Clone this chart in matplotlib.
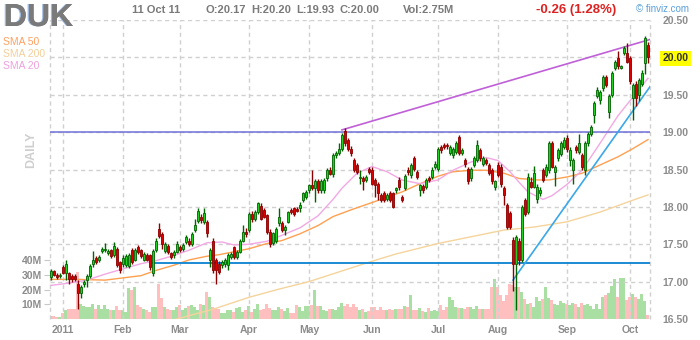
import numpy as np
import matplotlib
matplotlib.use("Agg")
import matplotlib.pyplot as plt
import matplotlib.patheffects as pe

plt.rcParams['font.family'] = ['Liberation Sans', 'DejaVu Sans']

# daily bars: 27 Dec 2010 .. 11 Oct 2011, bar 0 = 3 Jan 2011
first_bar = -4

opens = [17.06, 17.14, 17.09, 17.08, 17.19, 17.12, 17.11, 17.07, 17.08, 16.97,
         16.85, 16.97, 17.02, 17.08, 17.23, 17.31, 17.29, 17.41, 17.42, 17.38,
         17.42, 17.35, 17.44, 17.26, 17.24, 17.22, 17.21, 17.42, 17.29, 17.46,
         17.42, 17.29, 17.35, 17.35, 17.11, 17.42, 17.70, 17.64, 17.41, 17.47,
         17.38, 17.35, 17.40, 17.46, 17.44, 17.53, 17.55, 17.50, 17.69, 17.81,
         17.87, 17.80, 17.80, 17.29, 17.55, 17.29, 17.24, 17.22, 17.24, 17.22,
         17.33, 17.46, 17.33, 17.40, 17.55, 17.67, 17.69, 17.91, 17.84, 17.93,
         18.01, 17.96, 17.89, 17.67, 17.52, 17.55, 17.78, 17.78, 17.69, 17.80,
         17.96, 17.98, 17.97, 17.98, 18.09, 18.13, 18.22, 18.29, 18.25, 18.34,
         18.22, 18.22, 18.38, 18.49, 18.44, 18.69, 18.72, 18.78, 19.01, 18.89,
         18.78, 18.63, 18.56, 18.38, 18.38, 18.36, 18.51, 18.49, 18.36, 18.31,
         18.16, 18.18, 18.11, 18.18, 18.18, 18.22, 18.36, 18.13, 18.25, 18.50,
         18.42, 18.65, 18.47, 18.23, 18.28, 18.27, 18.38, 18.40, 18.54, 18.51,
         18.80, 18.83, 18.83, 18.72, 18.69, 18.74, 18.93, 18.72, 18.63, 18.51,
         18.38, 18.56, 18.63, 18.76, 18.58, 18.63, 18.56, 18.49, 18.27, 18.56,
         18.54, 18.25, 18.02, 17.92, 17.56, 17.24, 17.55, 17.29, 18.09, 17.93,
         18.33, 18.27, 18.11, 18.18, 18.49, 18.43, 18.49, 18.85, 18.47, 18.65,
         18.71, 18.80, 18.92, 18.63, 18.49, 18.80, 18.74, 18.69, 18.49, 18.85,
         18.98, 19.23, 19.48, 19.43, 19.59, 19.74, 19.27, 19.50, 19.86, 19.99,
         19.86, 20.06, 20.06, 19.99, 19.45, 19.65, 19.50, 19.65, 19.92, 20.17]

highs = [17.17, 17.16, 17.12, 17.11, 17.22, 17.29, 17.13, 17.10, 17.10, 17.02,
         16.95, 17.02, 17.10, 17.23, 17.41, 17.34, 17.36, 17.46, 17.52, 17.43,
         17.44, 17.53, 17.46, 17.28, 17.36, 17.37, 17.38, 17.45, 17.45, 17.49,
         17.44, 17.40, 17.38, 17.37, 17.44, 17.58, 17.79, 17.66, 17.53, 17.50,
         17.40, 17.42, 17.54, 17.49, 17.52, 17.62, 17.58, 17.66, 17.84, 17.98,
         17.90, 17.98, 17.83, 17.45, 17.58, 17.31, 17.27, 17.29, 17.31, 17.38,
         17.40, 17.48, 17.42, 17.57, 17.76, 17.72, 17.93, 17.94, 17.96, 18.07,
         18.05, 17.99, 17.91, 17.70, 17.67, 17.73, 17.98, 17.81, 17.76, 17.95,
         17.99, 18.00, 18.00, 18.06, 18.20, 18.22, 18.31, 18.49, 18.37, 18.37,
         18.37, 18.38, 18.52, 18.53, 18.72, 18.75, 18.85, 18.99, 19.05, 18.92,
         18.82, 18.66, 18.59, 18.49, 18.41, 18.42, 18.54, 18.53, 18.39, 18.33,
         18.19, 18.21, 18.19, 18.21, 18.20, 18.27, 18.40, 18.16, 18.44, 18.53,
         18.59, 18.68, 18.50, 18.31, 18.31, 18.38, 18.41, 18.53, 18.61, 18.80,
         18.83, 18.86, 18.86, 18.83, 18.80, 18.88, 18.96, 18.79, 18.66, 18.54,
         18.53, 18.68, 18.89, 18.79, 18.68, 18.66, 18.59, 18.52, 18.36, 18.60,
         18.57, 18.28, 18.05, 17.95, 17.60, 17.62, 17.58, 18.03, 18.12, 18.45,
         18.40, 18.55, 18.30, 18.27, 18.52, 18.57, 18.88, 18.88, 18.56, 18.79,
         18.88, 18.93, 18.96, 18.80, 18.65, 18.83, 18.98, 18.72, 18.88, 19.00,
         19.10, 19.42, 19.60, 19.57, 19.77, 19.77, 19.51, 19.82, 19.97, 20.08,
         19.90, 20.15, 20.19, 20.02, 19.66, 19.68, 19.73, 19.83, 20.28, 20.20]

lows = [17.02, 17.07, 17.04, 17.05, 17.10, 17.02, 16.97, 17.00, 17.01, 16.64,
        16.78, 16.93, 16.93, 17.05, 17.19, 17.24, 17.26, 17.38, 17.40, 17.35,
        17.31, 17.33, 17.20, 17.12, 17.20, 17.19, 17.18, 17.24, 17.27, 17.37,
        17.31, 17.27, 17.27, 17.16, 17.07, 17.39, 17.58, 17.44, 17.38, 17.37,
        17.30, 17.32, 17.38, 17.39, 17.41, 17.50, 17.47, 17.48, 17.66, 17.78,
        17.79, 17.77, 17.60, 17.20, 17.12, 16.97, 17.10, 17.18, 17.20, 17.15,
        17.30, 17.30, 17.30, 17.38, 17.53, 17.60, 17.66, 17.80, 17.81, 17.90,
        17.82, 17.85, 17.64, 17.46, 17.49, 17.52, 17.75, 17.66, 17.62, 17.78,
        17.91, 17.88, 17.93, 17.93, 18.06, 18.10, 18.19, 18.23, 18.07, 18.19,
        18.19, 18.19, 18.35, 18.42, 18.40, 18.66, 18.69, 18.75, 18.82, 18.75,
        18.68, 18.46, 18.44, 18.31, 18.23, 18.33, 18.44, 18.29, 18.13, 18.09,
        18.06, 18.06, 18.08, 18.06, 17.98, 18.19, 18.23, 18.06, 18.22, 18.43,
        18.39, 18.48, 18.37, 18.15, 18.19, 18.24, 18.33, 18.37, 18.51, 18.48,
        18.72, 18.77, 18.78, 18.69, 18.66, 18.71, 18.70, 18.69, 18.54, 18.30,
        18.35, 18.53, 18.60, 18.62, 18.55, 18.56, 18.42, 18.30, 18.22, 18.40,
        18.27, 18.03, 17.70, 17.70, 16.88, 16.62, 17.22, 17.26, 17.88, 17.90,
        18.25, 18.25, 18.05, 18.14, 18.33, 18.40, 18.45, 18.52, 18.28, 18.62,
        18.68, 18.77, 18.74, 18.55, 18.30, 18.72, 18.71, 18.50, 18.42, 18.82,
        18.95, 19.12, 19.45, 19.38, 19.55, 19.60, 19.19, 19.47, 19.83, 19.85,
        19.84, 20.03, 19.92, 19.65, 19.16, 19.35, 19.42, 19.62, 19.78, 19.93]

closes = [17.14, 17.09, 17.06, 17.09, 17.12, 17.23, 17.04, 17.03, 17.04, 16.85,
          16.93, 17.00, 17.08, 17.21, 17.29, 17.26, 17.33, 17.44, 17.44, 17.41,
          17.34, 17.48, 17.22, 17.15, 17.32, 17.34, 17.35, 17.26, 17.42, 17.40,
          17.34, 17.37, 17.29, 17.19, 17.41, 17.55, 17.61, 17.51, 17.51, 17.40,
          17.33, 17.40, 17.51, 17.42, 17.49, 17.60, 17.50, 17.64, 17.76, 17.94,
          17.82, 17.92, 17.65, 17.42, 17.15, 17.15, 17.13, 17.26, 17.29, 17.35,
          17.37, 17.33, 17.40, 17.55, 17.67, 17.64, 17.91, 17.84, 17.93, 18.05,
          17.84, 17.87, 17.67, 17.51, 17.65, 17.71, 17.87, 17.69, 17.73, 17.93,
          17.93, 17.91, 17.95, 18.02, 18.18, 18.20, 18.29, 18.25, 18.34, 18.22,
          18.34, 18.36, 18.49, 18.44, 18.69, 18.72, 18.78, 18.96, 18.85, 18.78,
          18.72, 18.49, 18.47, 18.40, 18.34, 18.40, 18.47, 18.31, 18.29, 18.18,
          18.09, 18.09, 18.16, 18.09, 18.00, 18.25, 18.26, 18.09, 18.41, 18.46,
          18.56, 18.51, 18.40, 18.29, 18.22, 18.36, 18.36, 18.50, 18.58, 18.78,
          18.76, 18.80, 18.81, 18.80, 18.77, 18.85, 18.72, 18.76, 18.57, 18.34,
          18.51, 18.65, 18.83, 18.65, 18.65, 18.59, 18.45, 18.34, 18.34, 18.42,
          18.30, 18.16, 17.73, 17.73, 17.24, 17.60, 17.29, 18.00, 17.91, 18.40,
          18.27, 18.45, 18.27, 18.23, 18.36, 18.54, 18.85, 18.54, 18.54, 18.76,
          18.85, 18.89, 18.78, 18.76, 18.63, 18.76, 18.85, 18.54, 18.85, 18.98,
          19.07, 19.39, 19.56, 19.54, 19.74, 19.63, 19.48, 19.79, 19.94, 19.88,
          19.88, 20.12, 19.94, 19.68, 19.63, 19.45, 19.70, 19.79, 20.26, 20.00]

# volume in millions
volumes = [2, 2, 1.6, 1.6, 4, 6, 7, 7, 7, 32,
           10, 9, 8, 8.5, 10, 6.5, 9.5, 7, 9.5, 7,
           6, 6, 9, 6, 6, 4.5, 21, 20, 22, 9.5,
           8.4, 7, 6, 5, 8.4, 8.4, 23.5, 14, 8.4, 7,
           6, 6, 8.4, 9.5, 6, 7.7, 9, 9.5, 8.4, 6,
           10.5, 9.5, 18.6, 15, 8, 7.5, 7, 4, 4, 6,
           6, 4.5, 7.5, 8.5, 5, 6, 9, 5, 7, 10,
           6, 7, 10, 7.5, 6, 6, 8.5, 7, 5.7, 7.5,
           4, 4, 9.5, 8.4, 5.7, 9, 9, 9.5, 20, 9,
           9, 6, 5.3, 7, 7, 6, 8.4, 11, 9, 10,
           8.4, 10, 8, 6, 7, 4.5, 5.3, 8, 8.4, 6,
           8.4, 6, 6, 7, 6.3, 7, 7, 7, 9, 8.4,
           16, 6, 6, 7.5, 5.3, 4.5, 7.5, 5.7, 6, 5.7,
           9.5, 6, 8.4, 15, 13, 8, 7.5, 7.5, 7, 8,
           8, 7, 9, 6.5, 7, 6.5, 7, 22, 27, 22,
           16, 12.5, 16, 24, 23, 22, 22, 18.6, 13.6, 10,
           10.6, 8.4, 14.7, 12, 13.6, 21.5, 14, 13, 10, 9.5,
           12, 11, 10, 9.5, 11, 10, 8, 10.6, 9.5, 10,
           9, 7, 10, 7, 15, 16, 18, 22.6, 27, 15,
           28, 28, 13, 15, 17, 15, 13.6, 17, 12, 2.75]

# moving averages at these bars
sma20_at = [-4, 2, 8, 14, 20, 26, 31, 37, 42, 48, 53, 57, 62, 68, 73, 79, 85, 90, 93,
            98, 103, 108, 113, 119, 125, 130, 136, 141, 145, 149, 152, 155, 160, 163,
            168, 173, 179, 185, 190, 195]
sma20 = [16.95, 16.98, 17.02, 17.10, 17.17, 17.24, 17.28, 17.35, 17.42, 17.52, 17.53,
         17.49, 17.50, 17.54, 17.62, 17.72, 17.88, 18.10, 18.25, 18.45, 18.54, 18.47,
         18.36, 18.31, 18.36, 18.49, 18.60, 18.66, 18.62, 18.47, 18.33, 18.20, 18.10,
         18.15, 18.30, 18.49, 18.85, 19.22, 19.47, 19.72]

sma50_at = [-4, 5, 14, 20, 26, 31, 37, 42, 48, 52, 57, 62, 68, 73, 79, 85, 90, 96, 101,
            106, 113, 119, 125, 130, 136, 141, 147, 152, 158, 162, 168, 173, 179, 185,
            190, 195]
sma50 = [17.03, 17.03, 17.02, 17.05, 17.08, 17.15, 17.22, 17.29, 17.34, 17.36, 17.40,
         17.44, 17.51, 17.55, 17.64, 17.75, 17.87, 17.96, 18.03, 18.10, 18.20, 18.31,
         18.41, 18.47, 18.49, 18.49, 18.45, 18.38, 18.36, 18.36, 18.40, 18.45, 18.56,
         18.67, 18.78, 18.90]

sma200_at = [36, 50, 62, 72, 82, 92, 102, 111, 125, 136, 147, 157, 168, 179, 190, 195]
sma200 = [16.48, 16.63, 16.79, 16.90, 17.00, 17.13, 17.26, 17.37, 17.51, 17.60, 17.69,
          17.73, 17.80, 17.93, 18.09, 18.16]

# drawn lines
resist_level = 19.00
support_level = 17.25
support_from = 30
upper_trend_at = [93, 195.7]
upper_trend = [19.03, 20.24]
lower_trend_at = [150, 195.7]
lower_trend = [17.02, 19.61]

month_starts = [0, 20, 39, 62, 82, 103, 125, 145, 168, 189]
month_labels = ['2011', 'Feb', 'Mar', 'Apr', 'May', 'Jun', 'Jul', 'Aug', 'Sep', 'Oct']
price_ticks = [16.5, 17.0, 17.5, 18.0, 18.5, 19.0, 19.5, 20.0, 20.5]
vol_ticks = [10, 20, 30, 40]

o = np.array(opens)
h = np.array(highs)
l = np.array(lows)
c = np.array(closes)
bars = np.arange(first_bar, first_bar + len(c))
up = c >= o

W, H = 700, 340
fig = plt.figure(figsize=(W / 100, H / 100), dpi=100)
box = [50 / W, 21 / H, 600 / W, 299 / H]
axv = fig.add_axes(box)
ax = fig.add_axes(box, sharex=axv)
ax.patch.set_visible(False)

xlim = (-4.333, 195.667)
grid_kw = dict(color='#d0d0d0', lw=1, ls=(0, (3, 2.5)), zorder=0)

# volume
vcol = np.where(up, '#aadfa4', '#ffbfbf')
axv.bar(bars, volumes, width=1.0, color=vcol, lw=0, antialiased=False, zorder=1)
axv.set_ylim(0, 203.4)
axv.yaxis.tick_left()
axv.set_yticks(vol_ticks, [f'{v}M' for v in vol_ticks])
axv.tick_params(axis='y', length=4, color='#c8c8c8', pad=2, labelsize=7.5,
                labelcolor='#8c8c8c')
axv.tick_params(axis='x', bottom=False, labelbottom=False)
for lbl in axv.get_yticklabels():
    lbl.set_fontweight('bold')

# grid
for p in price_ticks:
    ax.axhline(p, **grid_kw)
for m in month_starts:
    ax.axvline(m, **grid_kw)
ax.axvline(xlim[0], clip_on=False, **grid_kw)
ax.axvline(xlim[1], clip_on=False, **grid_kw)

# moving averages
ax.plot(sma200_at, sma200, color='#f5d49c', lw=1.0, zorder=2)
ax.plot(sma50_at, sma50, color='#ffa050', lw=1.0, zorder=2)
ax.plot(sma20_at, sma20, color='#f2a8e4', lw=1.0, zorder=2)

# drawn lines
ax.axhline(resist_level, color='#7070d8', lw=1.1, zorder=2)
ax.plot([support_from, xlim[1]], [support_level, support_level], color='#1a8ad4', lw=1.4, zorder=2)
ax.plot(upper_trend_at, upper_trend, color='#c060d8', lw=1.2, zorder=2)
ax.plot(lower_trend_at, lower_trend, color='#3aa8e8', lw=1.2, zorder=2)

# candles
ax.vlines(bars[up], l[up], h[up], color='#006400', lw=1, zorder=3)
ax.vlines(bars[~up], l[~up], h[~up], color='#8b0000', lw=1, zorder=3)
ax.bar(bars[up], c[up] - o[up], bottom=o[up], width=0.72, color='#22d022',
       edgecolor='#006400', lw=0.6, zorder=4)
ax.bar(bars[~up], o[~up] - c[~up], bottom=c[~up], width=0.72, color='#dd0000',
       edgecolor='#8b0000', lw=0.6, zorder=4)

ax.set_xlim(*xlim)
ax.set_ylim(16.5, 20.5)
ax.yaxis.tick_right()
ax.set_yticks(price_ticks, [f'{p:.2f}' for p in price_ticks])
ax.set_xticks(month_starts, month_labels)
ax.tick_params(axis='y', length=0, pad=9, labelsize=7.5, labelcolor='#8c8c8c')
ax.tick_params(axis='x', length=0, pad=4, labelsize=7.5, labelcolor='#8c8c8c')
for lbl in ax.get_yticklabels() + ax.get_xticklabels():
    lbl.set_fontweight('bold')
for lbl in ax.get_yticklabels():
    if lbl.get_text() == '20.00':
        lbl.set_color('#333333')
        lbl.set_bbox(dict(facecolor='#ffff00', edgecolor='none', pad=2))

for a in (ax, axv):
    for s in a.spines.values():
        s.set_visible(False)

# header
def px(x, y):
    return x / W, 1 - y / H

fig.text(*px(4, 18), 'DUK', fontsize=23, fontweight='bold', color='#7a7a7a', va='center',
         path_effects=[pe.withSimplePatchShadow(offset=(-1, 0), shadow_rgbFace='#86a8d8', alpha=0.8),
                       pe.Normal()])
head = dict(fontsize=8, fontweight='bold', color='#7a7a7a', va='center')
fig.text(*px(132, 10), '11 Oct 11', **head)
fig.text(*px(205, 10), 'O:20.17', **head)
fig.text(*px(251, 10), 'H:20.20', **head)
fig.text(*px(296, 10), 'L:19.93', **head)
fig.text(*px(340, 10), 'C:20.00', **head)
fig.text(*px(403, 10), 'Vol:2.75M', **head)
fig.text(*px(536, 10), '-0.26 (1.28%)', fontsize=9.5, fontweight='bold', color='#dd2222', va='center')
fig.text(*px(636, 9), '© finviz.com', fontsize=7, color='#5a9fd8', va='center')

fig.text(*px(3, 42), 'SMA 50', fontsize=7.5, color='#ffa060', va='center')
fig.text(*px(3, 54), 'SMA 200', fontsize=7.5, color='#f3cf9a', va='center')
fig.text(*px(3, 66), 'SMA 20', fontsize=7.5, color='#f0a0e0', va='center')
fig.text(*px(31, 150), 'DAILY', fontsize=9, fontweight='bold', color='#cfcfcf',
         rotation=90, ha='center', va='center')

fig.savefig('out.png', dpi=100, facecolor='white')
